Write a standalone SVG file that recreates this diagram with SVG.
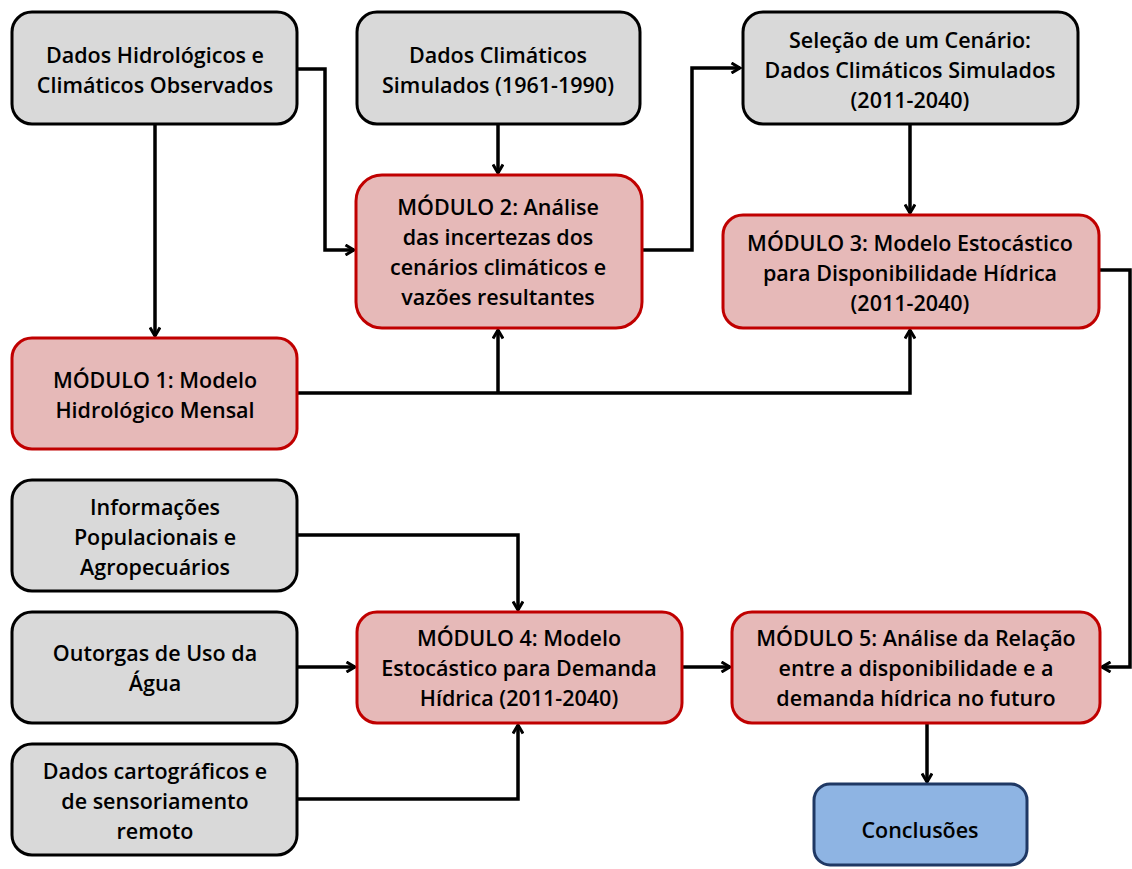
<svg xmlns="http://www.w3.org/2000/svg" width="1132" height="869" viewBox="0 0 1132 869">
<defs>
<style>
.g{fill:#d9d9d9;stroke:#000;stroke-width:3}
.r{fill:#e6b9b8;stroke:#c00000;stroke-width:3}
.b{fill:#8eb4e3;stroke:#1f3864;stroke-width:3}
text{font-family:"Open Sans","Liberation Sans",sans-serif;font-weight:600;font-size:21.5px;fill:#000;text-anchor:middle}
.c path{fill:none;stroke:#000;stroke-width:3.5}
</style>
<marker id="a" viewBox="0 0 12 12" refX="10.5" refY="6" markerWidth="12" markerHeight="12" markerUnits="userSpaceOnUse" orient="auto">
<path d="M2,1 L10.5,6 L2,11" fill="none" stroke="#000" stroke-width="3"/>
</marker>
</defs>
<rect width="1132" height="869" fill="#fff"/>
<g class="c">
<path d="M297,69 H325 V250 H354" marker-end="url(#a)"/>
<path d="M155,124 V336" marker-end="url(#a)"/>
<path d="M498,124 V173" marker-end="url(#a)"/>
<path d="M642,250 H692 V68 H740" marker-end="url(#a)"/>
<path d="M910,124 V213" marker-end="url(#a)"/>
<path d="M297,393 H910 V330" marker-end="url(#a)"/>
<path d="M498,393 V330" marker-end="url(#a)"/>
<path d="M1099,270 H1130 V667 H1102" marker-end="url(#a)"/>
<path d="M297,535 H518 V610" marker-end="url(#a)"/>
<path d="M297,667 H355" marker-end="url(#a)"/>
<path d="M297,799 H518 V725" marker-end="url(#a)"/>
<path d="M682,667 H730" marker-end="url(#a)"/>
<path d="M927,723 V782" marker-end="url(#a)"/>
</g>
<g id="n1"><rect class="g" x="12" y="12" width="285" height="112" rx="20"/>
<text x="155" y="63">Dados Hidrológicos e</text><text x="155" y="93">Climáticos Observados</text></g>
<g id="n2"><rect class="g" x="357" y="12" width="283" height="112" rx="20"/>
<text x="498" y="63">Dados Climáticos</text><text x="498" y="93">Simulados (1961-1990)</text></g>
<g id="n3"><rect class="g" x="743" y="12" width="335" height="112" rx="20"/>
<text x="910" y="48">Seleção de um Cenário:</text><text x="910" y="78">Dados Climáticos Simulados</text><text x="910" y="108">(2011-2040)</text></g>
<g id="m2"><rect class="r" x="356" y="175" width="286" height="153" rx="26"/>
<text x="498" y="215">MÓDULO 2: Análise</text><text x="498" y="245">das incertezas dos</text><text x="498" y="275">cenários climáticos e</text><text x="498" y="305">vazões resultantes</text></g>
<g id="m3"><rect class="r" x="723" y="215" width="376" height="113" rx="20"/>
<text x="910" y="251">MÓDULO 3: Modelo Estocástico</text><text x="910" y="281">para Disponibilidade Hídrica</text><text x="910" y="311">(2011-2040)</text></g>
<g id="m1"><rect class="r" x="12" y="338" width="285" height="111" rx="20"/>
<text x="155" y="388">MÓDULO 1: Modelo</text><text x="155" y="418">Hidrológico Mensal</text></g>
<g id="n4"><rect class="g" x="12" y="480" width="285" height="111" rx="20"/>
<text x="155" y="515">Informações</text><text x="155" y="545">Populacionais e</text><text x="155" y="575">Agropecuários</text></g>
<g id="n5"><rect class="g" x="12" y="612" width="285" height="111" rx="20"/>
<text x="155" y="661">Outorgas de Uso da</text><text x="155" y="691">Água</text></g>
<g id="n6"><rect class="g" x="12" y="744" width="285" height="111" rx="20"/>
<text x="155" y="779">Dados cartográficos e</text><text x="155" y="809">de sensoriamento</text><text x="155" y="839">remoto</text></g>
<g id="m4"><rect class="r" x="357" y="612" width="325" height="111" rx="20"/>
<text x="519" y="646">MÓDULO 4: Modelo</text><text x="519" y="676">Estocástico para Demanda</text><text x="519" y="706">Hídrica (2011-2040)</text></g>
<g id="m5"><rect class="r" x="732" y="612" width="368" height="111" rx="20"/>
<text x="916" y="646">MÓDULO 5: Análise da Relação</text><text x="916" y="676">entre a disponibilidade e a</text><text x="916" y="706">demanda hídrica no futuro</text></g>
<g id="c"><rect class="b" x="814" y="784" width="213" height="81" rx="16"/>
<text x="920" y="838">Conclusões</text></g>
</svg>
